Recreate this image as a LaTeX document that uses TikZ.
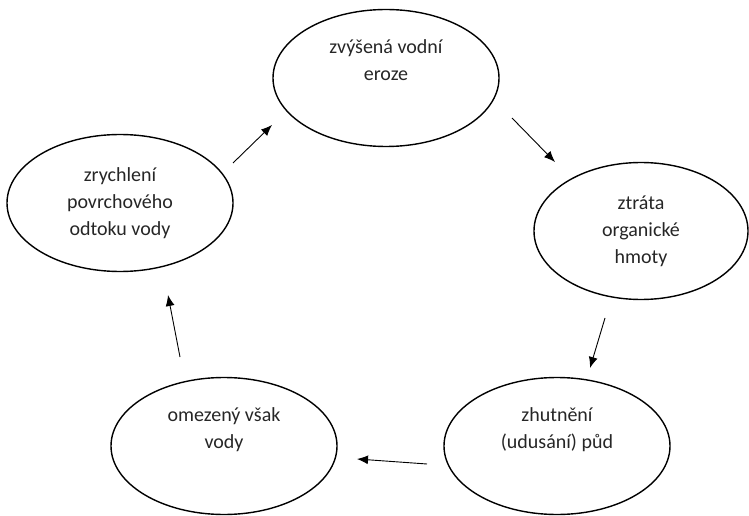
\documentclass[tikz,border=0pt]{standalone}
\usepackage{fontspec}
\setmainfont{Carlito}
\usetikzlibrary{shapes.geometric,arrows.meta}
\tikzset{
  cyc/.style={draw=black, line width=1.4bp, ellipse, minimum width=226bp, minimum height=137bp, inner sep=0pt, align=center, font=\fontsize{20bp}{27bp}\selectfont, text=black!85},
  arr/.style={line width=0.9bp, -{Latex[length=11bp,width=9bp]}}
}
\begin{document}
\begin{tikzpicture}[x=1bp,y=-1bp]
\useasboundingbox (0,0) rectangle (749,516);
\node[cyc] (e1) at (386,78) {zvýšená vodní\\eroze\\\strut};
\node[cyc, minimum width=214bp] (e2) at (641,231) {ztráta\\organické\\hmoty};
\node[cyc] (e3) at (557,446) {zhutnění\\(udusání) půd\\\strut};
\node[cyc] (e4) at (224,446) {omezený však\\vody\\\strut};
\node[cyc] (e5) at (120,203) {zrychlení\\povrchového\\odtoku vody};
\coordinate (a1s) at (233,163); \coordinate (a1e) at (272,125);
\coordinate (a2s) at (512,118); \coordinate (a2e) at (555,162);
\coordinate (a3s) at (605,318); \coordinate (a3e) at (590,368);
\coordinate (a4s) at (427,464); \coordinate (a4e) at (357,459);
\coordinate (a5s) at (180,357); \coordinate (a5e) at (168,295);
\draw[arr] (a1s) -- (a1e);
\draw[arr] (a2s) -- (a2e);
\draw[arr] (a3s) -- (a3e);
\draw[arr] (a4s) -- (a4e);
\draw[arr] (a5s) -- (a5e);
\end{tikzpicture}
\end{document}
